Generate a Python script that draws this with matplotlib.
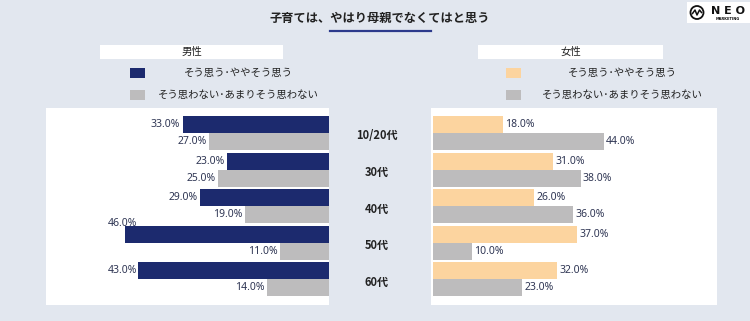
import matplotlib
matplotlib.use("Agg")
import matplotlib.pyplot as plt
import matplotlib.transforms as mtransforms
from matplotlib.patches import Rectangle, Circle
import numpy as np

plt.rcParams['font.family'] = ['Noto Sans CJK JP', 'DejaVu Sans']

# ---- data ----
title = "子育ては、やはり母親でなくてはと思う"
categories = ["10/20代", "30代", "40代", "50代", "60代"]
series_names = ["そう思う･ややそう思う", "そう思わない･あまりそう思わない"]
panel_names = ["男性", "女性"]
male_agree = [33.0, 23.0, 29.0, 46.0, 43.0]
male_disagree = [27.0, 25.0, 19.0, 11.0, 14.0]
female_agree = [18.0, 31.0, 26.0, 37.0, 32.0]
female_disagree = [44.0, 38.0, 36.0, 10.0, 23.0]

# ---- style ----
W, H = 750, 321
BG = "#e2e7ef"
NAVY = "#1c2a6e"
GRAY = "#bdbcbd"
PEACH = "#fcd49f"
TXT = "#222222"
VAL = "#2f3654"

fig = plt.figure(figsize=(W / 100, H / 100), dpi=100)
fig.patch.set_facecolor(BG)

def fx(x):
    return x / W

def fy(y):
    return 1 - y / H

def rect_px(x0, y0, x1, y1):
    return [fx(x0), fy(y1), fx(x1) - fx(x0), fy(y0) - fy(y1)]

# title
fig.text(fx(380), fy(18), title, ha="center", va="center", fontsize=8.8,
         color=TXT, fontweight="bold")
fig.add_artist(plt.Line2D([fx(330), fx(431)], [fy(31), fy(31)], color="#2c3a8c", lw=1.6))

# logo
fig.add_artist(Rectangle((fx(687), fy(23)), fx(750) - fx(687), fy(2) - fy(23),
                         facecolor="white", edgecolor="none", transform=fig.transFigure))
inch = fig.dpi_scale_trans
fig.add_artist(Circle((697 / 100, (H - 12.5) / 100), 6.5 / 100, transform=inch,
                      facecolor="none", edgecolor="#111111", lw=1.3))
wave_x = [692.5, 695, 697, 699.5, 701.5]
wave_y = [13.5, 10, 15, 10, 12.5]
fig.add_artist(plt.Line2D([fx(v) for v in wave_x], [fy(v) for v in wave_y],
                          color="#111111", lw=1.1))
fig.text(fx(728), fy(11), "N E O", ha="center", va="center", fontsize=8,
         fontweight="bold", color="#111111", family=["DejaVu Sans"])
fig.text(fx(728), fy(19.5), "MARKETING", ha="center", va="center", fontsize=2.6,
         fontweight="bold", color="#111111", family=["DejaVu Sans"])

# headers and legends
def header(x0, x1, name):
    fig.add_artist(Rectangle((fx(x0), fy(59)), fx(x1) - fx(x0), fy(45) - fy(59),
                             facecolor="white", edgecolor="none", transform=fig.transFigure))
    fig.text(fx((x0 + x1) / 2), fy(52), name, ha="center", va="center", fontsize=7.5, color=TXT)

def legend(sx, tx, colors):
    for (y0, y1, ty), c, name in zip([(68, 78, 73), (90, 100, 95)], colors, series_names):
        fig.add_artist(Rectangle((fx(sx), fy(y1)), fx(sx + 15) - fx(sx), fy(y0) - fy(y1),
                                 facecolor=c, edgecolor="none", transform=fig.transFigure))
        fig.text(fx(tx), fy(ty), name, ha="center", va="center", fontsize=7.5, color=TXT)

header(100, 283, panel_names[0])
header(478, 663, panel_names[1])
legend(130, 238, [NAVY, GRAY])
legend(506, 622, [PEACH, GRAY])

# axes geometry
y_idx = np.arange(len(categories))
bar_h = 17 / 36.5
ylim = (len(categories) - 1 + 0.712, -0.685)

# left panel (male)
axL = fig.add_axes(rect_px(46, 108, 329, 305))
axL.set_facecolor("white")
axL.barh(y_idx - bar_h / 2, male_agree, height=bar_h, color=NAVY)
axL.barh(y_idx + bar_h / 2, male_disagree, height=bar_h, color=GRAY)
axL.set_xlim(63.8, 0)
axL.set_ylim(*ylim)
left_limit = 49.8
for vals, off in [(male_agree, -bar_h / 2), (male_disagree, bar_h / 2)]:
    for i, v in enumerate(vals):
        if v + 8.5 > left_limit:
            dy = -0.3 if v > 45 else 0
            axL.text(left_limit, i + off + dy, f"{v:.1f}%", ha="left", va="center",
                     fontsize=7.5, color=VAL, family=["Noto Sans"])
        else:
            axL.text(v + 0.6, i + off, f"{v:.1f}%", ha="right", va="center",
                     fontsize=7.5, color=VAL, family=["Noto Sans"])

# right panel (female)
axR = fig.add_axes(rect_px(431, 108, 717, 305))
axR.set_facecolor("white")
axR.barh(y_idx - bar_h / 2, female_agree, height=bar_h, color=PEACH)
axR.barh(y_idx + bar_h / 2, female_disagree, height=bar_h, color=GRAY)
axR.set_xlim(-0.5, 73.1)
axR.set_ylim(*ylim)
for vals, off in [(female_agree, -bar_h / 2), (female_disagree, bar_h / 2)]:
    for i, v in enumerate(vals):
        axR.text(v + 0.6, i + off, f"{v:.1f}%", ha="left", va="center",
                 fontsize=7.5, color=VAL, family=["Noto Sans"])

# category labels (between panels)
blend = mtransforms.blended_transform_factory(axR.transAxes, axR.transData)
for i, c in enumerate(categories):
    axR.text(-0.189, i + 0.08, c, transform=blend, ha="center", va="center",
             fontsize=8, color=TXT, fontweight="bold", clip_on=False)

for ax in (axL, axR):
    ax.set_xticks([])
    ax.set_yticks([])
    for s in ax.spines.values():
        s.set_visible(False)

fig.savefig("out.png", dpi=100, facecolor=BG)
